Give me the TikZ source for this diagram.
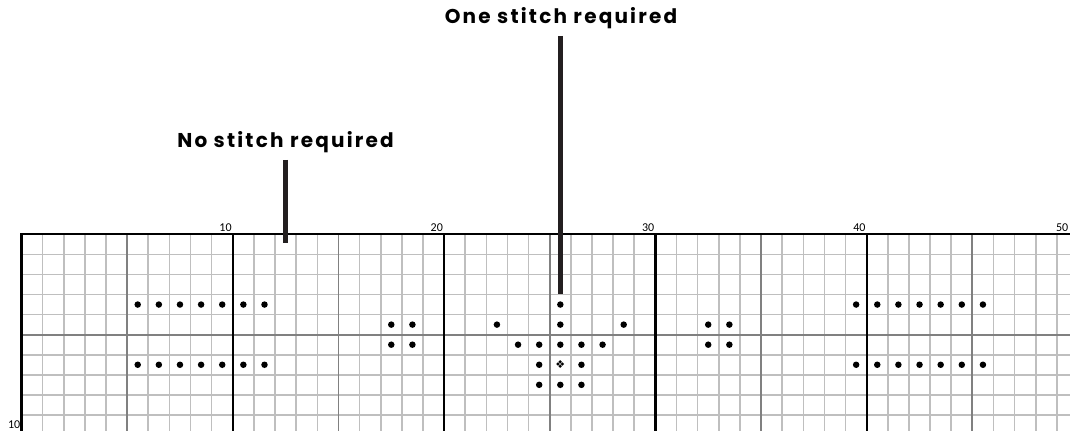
\documentclass[tikz,border=0pt]{standalone}
\usepackage{fontspec}
\setmainfont{Carlito}
\newfontfamily\calloutfont{Poppins}[LetterSpace=11]
\newfontfamily\symfont{DejaVu Sans}
\usepackage{xcolor}
\usetikzlibrary{positioning, calc}

\definecolor{minorgray}{HTML}{BFBFBF}
\definecolor{fifthgray}{HTML}{808080}
\definecolor{pointergray}{HTML}{231F20}

\begin{document}
\begin{tikzpicture}[
    x=1pt, y=-1pt,
    minor/.style={draw=minorgray, line width=1.6pt},
    fifth/.style={draw=fifthgray, line width=1.8pt},
    tenth/.style={draw=black, line width=2.2pt},
    stitch/.style={circle, fill=black, inner sep=0pt, minimum size=6.5pt},
    callout/.style={font=\calloutfont\bfseries\fontsize{20}{24}\selectfont, inner sep=0pt},
    pointer/.style={draw=pointergray, line width=5pt},
    ruler/.style={font=\fontsize{12}{14}\selectfont, inner sep=1pt}
]
\useasboundingbox (0,0) rectangle (1070,431);

\def\cw{21.13}
\def\ch{20.07}

% the chart
\begin{scope}
\clip (0,0) rectangle (1070,431);
\foreach \r in {1,...,9}
    \draw[minor] (21.5,{234.3+\r*\ch}) -- (1070,{234.3+\r*\ch});
\foreach \c in {1,...,49}
    \draw[minor] ({21.5+\c*\cw},234.3) -- ({21.5+\c*\cw},431);
\draw[fifth] (21.5,{234.3+5*\ch}) -- (1070,{234.3+5*\ch});
\foreach \c in {5,15,25,35,45}
    \draw[fifth] ({21.5+\c*\cw},234.3) -- ({21.5+\c*\cw},431);
\foreach \c in {10,20,30,40}
    \draw[tenth] ({21.5+\c*\cw},234.3) -- ({21.5+\c*\cw},431);
\draw[tenth] (1070,234.3) -- (21.5,234.3) -- (21.5,431);
\end{scope}

\foreach \c in {10,20,30,40}
    \node[ruler, anchor=south east] (col\c) at ({21.5+\c*\cw},233) {\c};
\node[ruler, anchor=south east] (col50) at (1069.5,233) {50};
\node[ruler, anchor=east] (row10) at (21.5,{234.3+9.5*\ch}) {10};

% stitches
\foreach \c/\r in {5/3,6/3,7/3,8/3,9/3,10/3,11/3,
                   5/6,6/6,7/6,8/6,9/6,10/6,11/6,
                   39/3,40/3,41/3,42/3,43/3,44/3,45/3,
                   39/6,40/6,41/6,42/6,43/6,44/6,45/6,
                   17/4,18/4,17/5,18/5,32/4,33/4,32/5,33/5,
                   25/3,22/4,25/4,28/4,
                   23/5,24/5,25/5,26/5,27/5,
                   24/6,26/6,24/7,25/7,26/7}
    \node[stitch] (s-\c-\r) at ({21.5+(\c+0.5)*\cw},{234.3+(\r+0.5)*\ch}) {};
\node[font=\symfont\fontsize{11}{11}\selectfont, inner sep=0pt] (centre)
    at ({21.5+25.5*\cw},{234.3+6.5*\ch}) {❖};

% callouts
\node[callout] (nolabel) at (285.5,142) {No stitch required};
\node[callout] (onelabel) at (561,18) {One stitch required};
\coordinate (notip) at (285,243);
\coordinate (onetip) at (560.5,294);
\draw[pointer] (notip |- nolabel.south) ++(0,7) -- (notip);
\draw[pointer] (onetip |- onelabel.south) ++(0,7) -- (onetip);

\end{tikzpicture}
\end{document}
